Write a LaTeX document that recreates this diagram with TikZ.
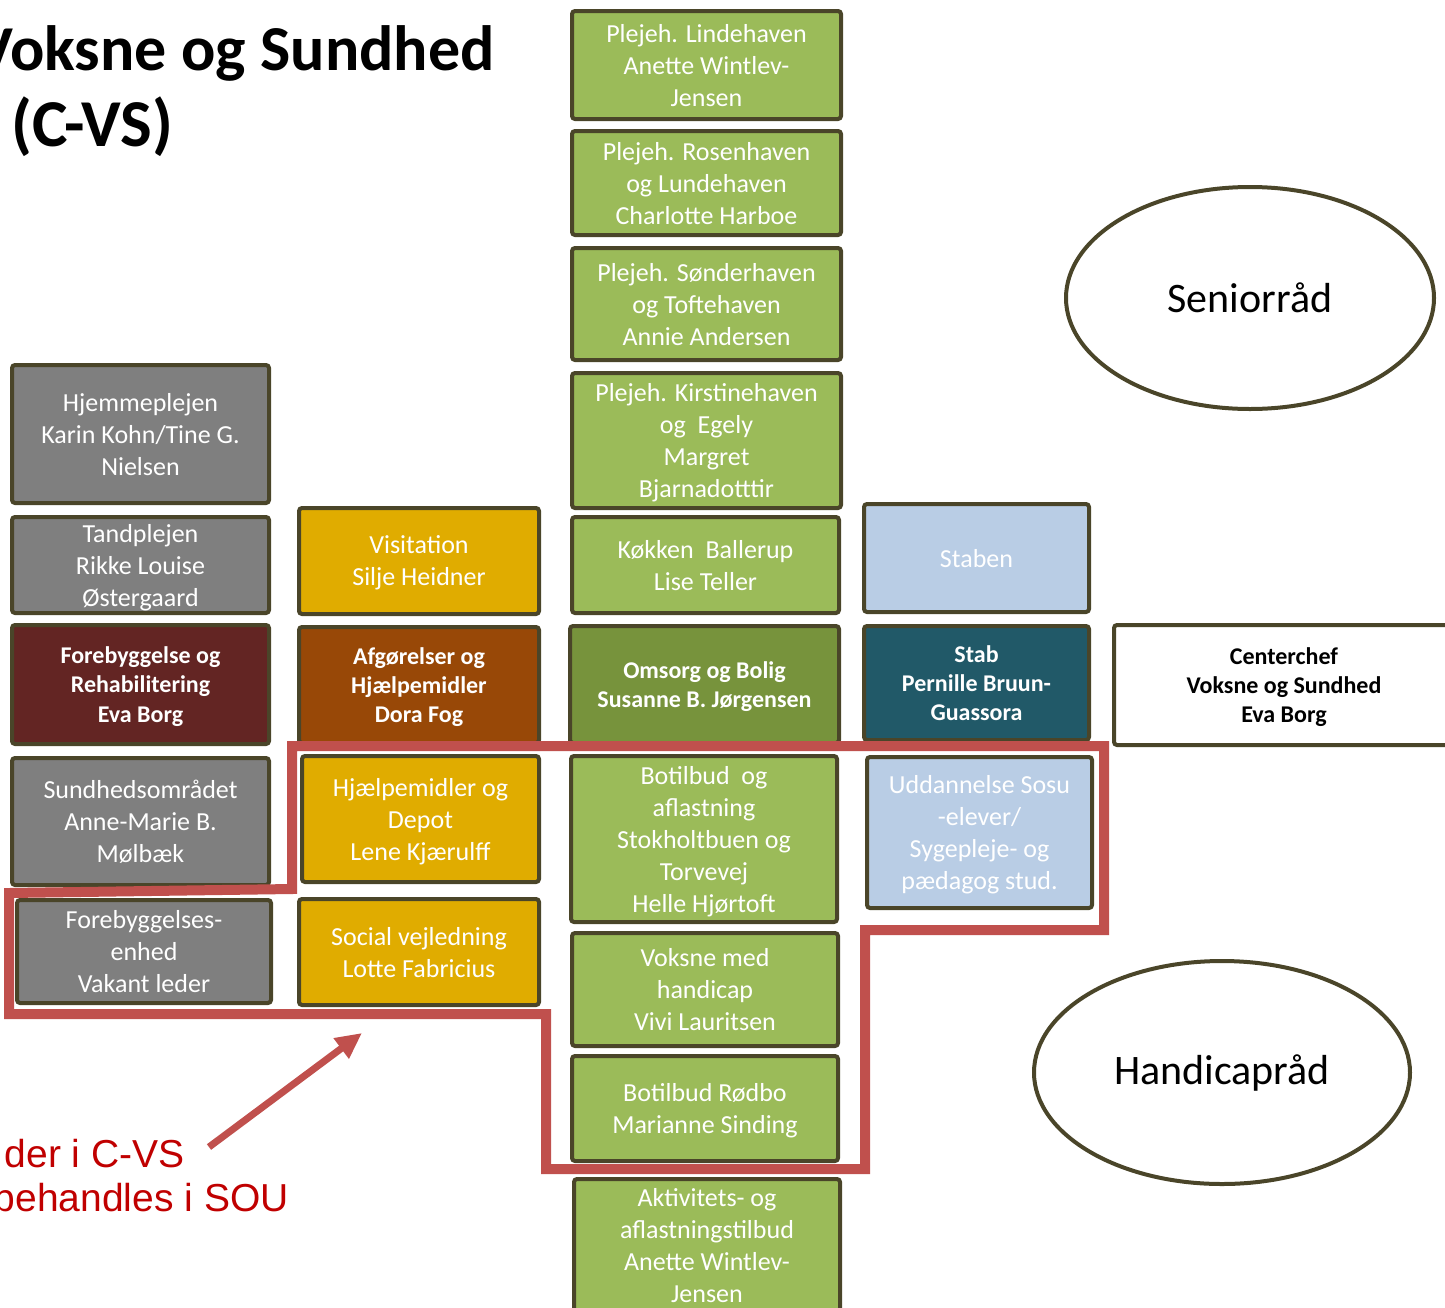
\documentclass[tikz,border=0pt]{standalone}
\usepackage{fontspec}
\setmainfont{Carlito}
\newfontfamily\rodfont{Liberation Sans}
\usetikzlibrary{shapes.geometric,arrows.meta}
\definecolor{kant}{HTML}{4A4529}
\definecolor{graa}{HTML}{7F7F7F}
\definecolor{vin}{HTML}{632523}
\definecolor{gul}{HTML}{E0AC00}
\definecolor{brun}{HTML}{984807}
\definecolor{groen}{HTML}{9BBB59}
\definecolor{moerkgroen}{HTML}{77933C}
\definecolor{lyseblaa}{HTML}{B9CDE5}
\definecolor{petrol}{HTML}{215968}
\definecolor{rod}{HTML}{C0504D}
\definecolor{tekstrod}{HTML}{C00000}
\begin{document}
\begin{tikzpicture}
	[	x=0.5pt,y=-0.5pt,
	boks/.style={rectangle,draw=kant,line width=2pt,rounded corners=1.5pt,align=center,text=white,inner sep=0pt,text depth=0pt,font=\fontsize{13}{16}\selectfont},
	leder/.style={boks,font=\bfseries\fontsize{12}{14.6}\selectfont},
	str/.style 2 args={minimum width=#1pt,minimum height=#2pt},
	raad/.style={ellipse,draw=kant,line width=2pt,inner sep=0pt,font=\fontsize{21}{25}\selectfont},
	titel/.style={inner sep=0pt,font=\bfseries\fontsize{32}{39}\selectfont},
	rodtekst/.style={inner sep=0pt,text=tekstrod,font=\rodfont\fontsize{19.5}{22}\selectfont},
	ramme/.style={draw=rod,line width=5pt,line join=miter},
	pil/.style={draw=rod,line width=3.5pt,-{Triangle[length=13pt,width=12pt]}}
	]
	\useasboundingbox (0,0) rectangle (1445,1307);
	\clip (0,0) rectangle (1445,1307);

	% titel
	\node[titel,anchor=base east] (titel1) at (495,70) {Voksne og Sundhed};
	\node[titel,anchor=base west,font=\bfseries\fontsize{33.5}{39}\selectfont] (titel2) at (11,146) {(C-VS)};

	% kolonne 1
	\node[boks,fill=graa,str={128.5}{69}] (hjem) at (140.5,434) {Hjemmeplejen\\Karin Kohn/Tine G.\\Nielsen};
	\node[boks,fill=graa,str={128.5}{48}] (tand) at (140.5,565) {Tandplejen\\Rikke Louise\\Østergaard};
	\node[leder,fill=vin,str={128.5}{59.5}] (forebyg) at (140.5,684.5) {Forebyggelse og\\Rehabilitering\\Eva Borg};
	\node[boks,fill=graa,str={128.5}{63.5}] (sundhed) at (140.5,821.5) {Sundhedsområdet\\Anne-Marie B.\\Mølbæk};
	\node[boks,fill=graa,str={127}{51.5}] (fenhed) at (144,951.5) {Forebyggelses-\\enhed\\Vakant leder};

	% kolonne 2
	\node[boks,fill=gul,str={120}{53}] (visit) at (419,561) {Visitation\\Silje Heidner};
	\node[leder,fill=brun,str={120}{58}] (afg) at (419,685) {Afgørelser og\\Hjælpemidler\\Dora Fog};
	\node[boks,fill=gul,str={118.5}{63}] (depot) at (420.5,819) {Hjælpemidler og\\Depot\\Lene Kjærulff};
	\node[boks,fill=gul,str={120}{53}] (social) at (419,952) {Social vejledning\\Lotte Fabricius};

	% kolonne 3
	\node[boks,fill=groen,str={134.5}{54}] (linde) at (706.5,65) {Plejeh. Lindehaven\\Anette Wintlev-\\Jensen};
	\node[boks,fill=groen,str={134.5}{52}] (rosen) at (706.5,183) {Plejeh. Rosenhaven\\og Lundehaven\\Charlotte Harboe};
	\node[boks,fill=groen,str={134.5}{56}] (sonder) at (706.5,304) {Plejeh. Sønderhaven\\og Toftehaven\\Annie Andersen};
	\node[boks,fill=groen,str={134.5}{67.5}] (kirst) at (706.5,440.5) {Plejeh. Kirstinehaven\\og\ \ Egely\\Margret\\Bjarnadotttir};
	\node[boks,fill=groen,str={133.5}{48}] (kokken) at (705.5,565) {Køkken\ \ Ballerup\\Lise Teller};
	\node[leder,fill=moerkgroen,str={134.5}{58.5}] (omsorg) at (704.5,684.5) {Omsorg og Bolig\\Susanne B. Jørgensen};
	\node[boks,fill=groen,str={133}{83}] (botilbud) at (704,839) {Botilbud\ \ og\\aflastning\\Stokholtbuen og\\Torvevej\\Helle Hjørtoft};
	\node[boks,fill=groen,str={133}{56.5}] (voksne) at (705,989.5) {Voksne med\\handicap\\Vivi Lauritsen};
	\node[boks,fill=groen,str={133}{52.5}] (rodbo) at (705,1108.5) {Botilbud Rødbo\\Marianne Sinding};
	\node[boks,fill=groen,str={133}{66.5}] (aktiv) at (707,1245.5) {Aktivitets- og\\aflastningstilbud\\Anette Wintlev-\\Jensen};

	% kolonne 4
	\node[boks,fill=lyseblaa,str={112.5}{54}] (staben) at (976.5,558) {Staben};
	\node[leder,fill=petrol,str={112.5}{57}] (stab) at (976.5,683) {Stab\\Pernille Bruun-\\Guassora};
	\node[boks,fill=lyseblaa,str={112.5}{75.5}] (udd) at (979.5,832.5) {Uddannelse Sosu\\-elever/\\Sygepleje- og\\pædagog stud.};

	% centerchef og raad
	\node[leder,fill=white,text=black,str={170}{60}] (chef) at (1284,685) {Centerchef\\Voksne og Sundhed\\Eva Borg};
	\node[raad,str={184}{111}] (senior) at (1250,298) {Seniorråd};
	\node[raad,str={188}{111.5}] (handicap) at (1222,1072.5) {Handicapråd};

	% roed ramme
	\draw[ramme] (292,746) -- (1104,746) -- (1104,930) -- (865,930) -- (865,1169)
		-- (546,1169) -- (546,1014) -- (9,1014) -- (9,893) -- (292,889) -- cycle;

	\node[rodtekst,anchor=base east] (tekst1) at (185,1167) {der i C-VS};
	\node[rodtekst,anchor=base east] (tekst2) at (289,1211) {behandles i SOU};
	\coordinate (pilstart) at (209,1147);
	\coordinate (pilspids) at (362,1033);
	\draw[pil] (pilstart) -- (pilspids);
\end{tikzpicture}
\end{document}
